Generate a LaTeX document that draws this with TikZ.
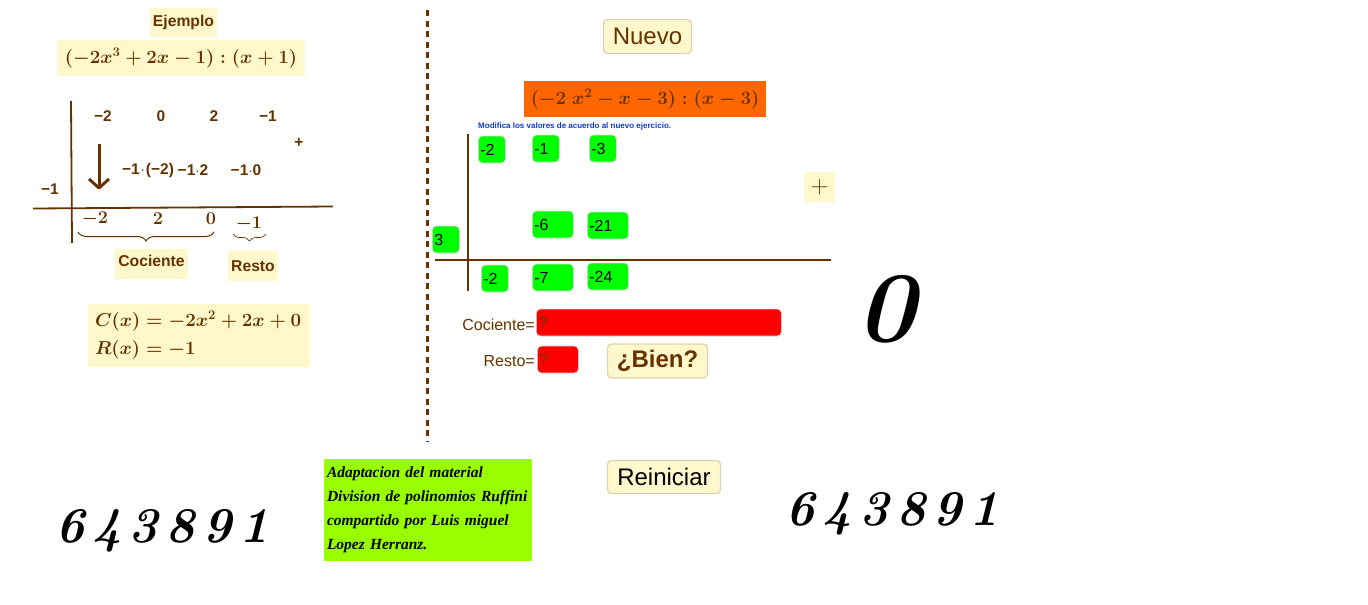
\RequirePackage{fix-cm}
\documentclass[tikz,border=0pt]{standalone}
\usepackage{amsmath, amssymb}
\usepackage{xcolor}
\usepackage{fontspec}
\usepackage{tikz}
\usetikzlibrary{decorations.pathreplacing}
\newfontfamily\arialfont{Liberation Sans}
\newfontfamily\timesfont{Liberation Serif}
\newfontfamily\bigfont{Latin Modern Roman}
\definecolor{cafe}{HTML}{663300}
\definecolor{crema}{HTML}{FFF8CC}
\definecolor{borde}{HTML}{DDD3B2}
\definecolor{campo}{HTML}{D8D8D8}
\definecolor{lima}{HTML}{99FF00}
\definecolor{naranja}{HTML}{FF6600}
\definecolor{azul}{HTML}{0A3CCC}
\tikzset{
	note/.style={fill=crema,text=cafe,inner sep=0pt,font=\arialfont\bfseries\fontsize{15.7}{18}\selectfont},
	nums/.style={text=cafe,inner sep=0pt,yshift=-1pt,font=\arialfont\bfseries\fontsize{15.5}{17}\selectfont},
	mathnum/.style={text=cafe,inner sep=0pt,font=\fontsize{18}{20}\selectfont\boldmath},
	button/.style={fill=crema,draw=borde,line width=1.2pt,rounded corners=4pt,inner sep=0pt},
	okfield/.style={fill=green,draw=campo,line width=.7pt,rounded corners=4pt,minimum height=27pt,inner xsep=2pt,inner ysep=0pt,anchor=west,align=left,text width=#1,font=\arialfont\fontsize{16}{18}\selectfont},
	badfield/.style={fill=red,draw=campo,line width=.7pt,rounded corners=4pt,minimum height=27pt,inner xsep=2pt,inner ysep=0pt,anchor=west,align=left,text width=#1,text=cafe,font=\arialfont\fontsize{16}{18}\selectfont},
	tag/.style={text=cafe,inner sep=0pt,anchor=east,font=\arialfont\fontsize{16}{18}\selectfont},
	bigdigits/.style={inner sep=0pt,font=\bigfont\bfseries\itshape\fontsize{50}{52}\selectfont},
	rule/.style={draw=cafe,line width=1.8pt},
}
\begin{document}
\begin{tikzpicture}[x=1pt,y=-1pt]
		\useasboundingbox (0,0) rectangle (1368,605);
		% example on the left
		\node[note,minimum width=67pt,minimum height=29pt] (ejemplo) at (183.5,22.5) {Ejemplo};
		\node[note,minimum width=248pt,minimum height=36pt,text depth=4pt,font=\fontsize{18.7}{22}\selectfont\boldmath] (dividendo) at (181,58) {$(-2x^3+2x-1):(x+1)$};
		\node[nums] (a1) at (103,115) {\textminus 2};
		\node[nums] (a2) at (161,115) {0};
		\node[nums] (a3) at (214,115) {2};
		\node[nums] (a4) at (268,115) {\textminus 1};
		\node[nums] (masa) at (299,142) {+};
		\node[nums] (b1) at (148,169) {\textminus 1\kern1pt$\cdot$\kern1pt(\textminus 2)};
		\node[nums] (b2) at (193,169) {\textminus 1$\cdot$2};
		\node[nums] (b3) at (246,169) {\textminus 1$\cdot$0};
		\node[nums] (raiz) at (50,188) {\textminus 1};
		\node[mathnum] (c1) at (95,219) {$-2$};
		\node[mathnum] (c2) at (158,219) {$2$};
		\node[mathnum] (c3) at (211,219) {$0$};
		\node[mathnum] (c4) at (249,224) {$-1$};
		\node[note,minimum width=73pt,minimum height=30pt,text depth=7pt] (cociente) at (151.5,264) {Cociente};
		\node[note,minimum width=50pt,minimum height=30pt] (resto) at (253,266) {Resto};
		\node[note,minimum width=222pt,minimum height=63pt,inner xsep=7pt,align=left,text width=208pt,font=\fontsize{18.7}{28}\selectfont\boldmath] (resultado) at (199,335.5) {\rule{0pt}{15pt}$C(x)=-2x^2+2x+0$\\$R(x)=-1$};
		%
		\coordinate (v1) at (71,101);
		\coordinate (v2) at (72,243);
		\coordinate (h1) at (33,208.5);
		\coordinate (h2) at (333,206.5);
		\coordinate (f1) at (99,144);
		\coordinate (f2) at (99,188);
		\coordinate (f3) at (89,179);
		\coordinate (f4) at (109,179);
		\coordinate (l1) at (78,232);
		\coordinate (l2) at (214,232);
		\coordinate (s1) at (233,234);
		\coordinate (s2) at (266,234);
		\path[rule]
		(v1) edge (v2)
		(h1) edge (h2);
		\draw[cafe,line width=3pt] (f1) -- (f2);
		\draw[cafe,line width=3pt,line join=round] (f3) -- (f2) -- (f4);
		\draw[cafe,line width=1pt,decorate,decoration={brace,mirror,amplitude=9pt}] (l1) -- (l2);
		\draw[cafe,line width=.7pt,decorate,decoration={brace,mirror,amplitude=7pt}] (s1) -- (s2);
		% separator
		\coordinate (d1) at (427,10);
		\coordinate (d2) at (427,441);
		\draw[cafe,line width=3pt,dash pattern=on 6pt off 4.5pt] (d1) -- (d2);
		% exercise on the right
		\node[button,minimum width=88pt,minimum height=34pt,text=cafe,font=\arialfont\fontsize{24}{28}\selectfont] (nuevo) at (647.5,36.5) {Nuevo};
		\node[fill=naranja,text=cafe,minimum width=242pt,minimum height=36pt,inner sep=0pt,text depth=4pt,font=\fontsize{18.7}{22}\selectfont\boldmath] (ejercicio) at (645,99) {$(-2\;x^2-x-3):(x-3)$};
		\node[text=azul,inner sep=0pt,anchor=west,font=\arialfont\bfseries\fontsize{8}{9}\selectfont] (aviso) at (478,126.5) {Modifica los valores de acuerdo al nuevo ejercicio.};
		\node[okfield=23pt] (p1) at (478,149.5) {-2};
		\node[okfield=23pt] (p2) at (532,148.5) {-1};
		\node[okfield=23pt] (p3) at (589,148.5) {-3};
		\node[okfield=37pt] (q2) at (532,224.5) {-6};
		\node[okfield=37pt] (q3) at (587,225.5) {-21};
		\node[okfield=23pt] (r) at (432,239.5) {3};
		\node[okfield=23pt] (t1) at (481,278.5) {-2};
		\node[okfield=37pt] (t2) at (532,277.5) {-7};
		\node[okfield=37pt] (t3) at (587,276.5) {-24};
		\node[fill=crema,text=cafe,minimum width=31pt,minimum height=30pt,inner sep=0pt,font=\fontsize{25}{27}\selectfont] (masb) at (819.5,187) {$+$};
		\node[tag] (lcoc) at (535,324.5) {Cociente=};
		\node[tag] (lres) at (535,361.5) {Resto=};
		\node[badfield=241pt] (fcoc) at (536,322.5) {?};
		\node[badfield=37pt] (fres) at (537,359.5) {?};
		\node[button,minimum width=100pt,minimum height=34pt,text=cafe,font=\arialfont\bfseries\fontsize{24}{28}\selectfont] (bien) at (657.5,361) {¿Bien?};
		%
		\coordinate (w1) at (468,134);
		\coordinate (w2) at (468,291);
		\coordinate (k1) at (435,260);
		\coordinate (k2) at (831,260);
		\path[rule]
		(w1) edge (w2)
		(k1) edge (k2);
		% bottom row
		\node[inner sep=0pt,font=\bigfont\bfseries\itshape\fontsize{100}{104}\selectfont] (cero) at (886,309) {0};
		\node[bigdigits] (azar1) at (162,531) {6\hspace{7.2pt}4\hspace{7.2pt}3\hspace{7.2pt}8\hspace{7.2pt}9\hspace{7.2pt}1};
		\node[fill=lima,minimum width=208pt,minimum height=102pt,inner xsep=3pt,inner ysep=0pt,align=left,text width=202pt,font=\timesfont\bfseries\itshape\fontsize{15.5}{24}\selectfont] (credito) at (428,510) {Adaptacion del material\\Division de polinomios Ruffini\\compartido por Luis miguel\\Lopez Herranz.};
		\node[button,minimum width=113pt,minimum height=33pt,font=\arialfont\fontsize{24}{28}\selectfont] (reiniciar) at (664,477) {Reiniciar};
		\node[bigdigits] (azar2) at (892.5,514) {6\hspace{7.2pt}4\hspace{7.2pt}3\hspace{7.2pt}8\hspace{7.2pt}9\hspace{7.2pt}1};
\end{tikzpicture}
\end{document}
